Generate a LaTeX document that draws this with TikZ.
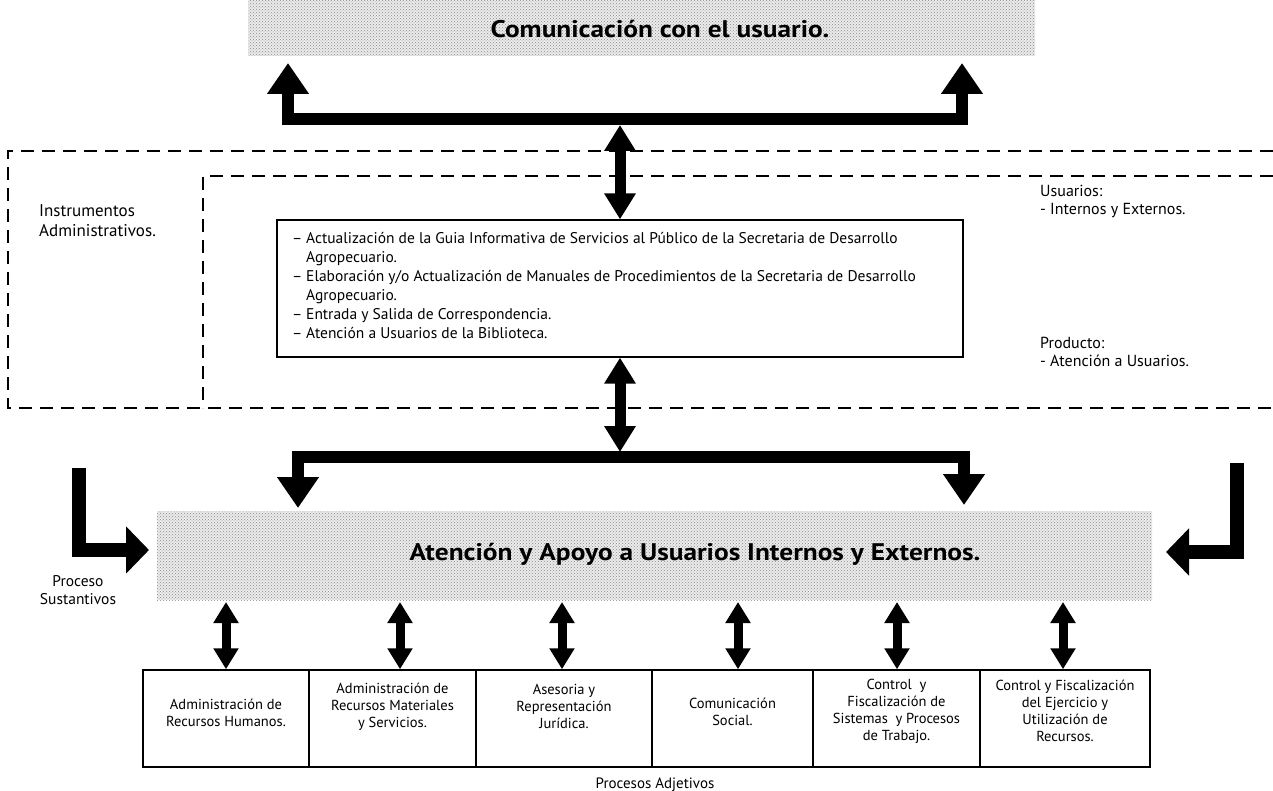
\documentclass[tikz,border=0pt]{standalone}
\usepackage{fontspec}
\usepackage{graphicx}
\setmainfont{PT Sans}
\usetikzlibrary{arrows.meta,patterns}

\begin{document}
\begin{tikzpicture}[x=1pt,y=-1pt,
  banner/.style={draw=none, fill=black!8, postaction={pattern=crosshatch dots, pattern color=black!45}},
  bantitle/.style={font=\bfseries\fontsize{24}{28}\selectfont, inner sep=0pt},
  fat/.style={line width=12pt, line join=miter, line cap=butt},
  bigtips/.style={{Triangle[width=40pt,length=31pt]}-{Triangle[width=40pt,length=31pt]}},
  ltip/.style={-{Triangle[width=46pt,length=23pt]}},
  midarrow/.style={line width=11pt, {Triangle[width=30pt,length=26pt]}-{Triangle[width=30pt,length=26pt]}},
  smallarrow/.style={line width=9pt, {Triangle[width=24pt,length=21pt]}-{Triangle[width=24pt,length=21pt]}},
  dashline/.style={line width=2.4pt, dash pattern=on 13pt off 8pt},
  taskbox/.style={draw, line width=1.3pt, minimum width=686pt, minimum height=137pt, inner sep=0pt},
  pbox/.style={draw, line width=1.5pt, minimum height=97pt, inner sep=0pt},
  ptext/.style={align=center, font=\fontsize{14.5}{17}\selectfont, inner sep=0pt},
  note/.style={align=left, anchor=north west, font=\fontsize{15.5}{19}\selectfont, inner sep=0pt}
]
\useasboundingbox (0,0) rectangle (1273,791);

% upper banner and its bracket
\node[banner, minimum width=787pt, minimum height=56pt] (topban) at (641.5,28) {};
\node[bantitle] (toptitle) at (660,29) {\scalebox{1.14}[1]{Comunicación con el usuario.}};

\coordinate (tl) at (288,63);
\coordinate (tlc) at (288,119);
\coordinate (trc) at (962,119);
\coordinate (tr) at (962,63);
\draw[fat, bigtips] (tl) -- (tlc) -- (trc) -- (tr);

% dashed frames
\draw[dashline] (1273,151) -- (8,151) -- (8,408) -- (1273,408);
\draw[dashline] (1273,176) -- (203,176) -- (203,408);

\node[note, font=\fontsize{17}{20}\selectfont] (instr) at (39,204) {Instrumentos\\Administrativos.};

% central task box
\node[taskbox] (tasks) at (620,288.5) {};
\node[note] (tasklist) at (292,232) {%
\makebox[14pt][l]{–}Actualización de la Guia Informativa de Servicios al Público de la Secretaria de Desarrollo\\
\hspace*{14pt}Agropecuario.\\
\makebox[14pt][l]{–}Elaboración y/o Actualización de Manuales de Procedimientos de la Secretaria de Desarrollo\\
\hspace*{14pt}Agropecuario.\\
\makebox[14pt][l]{–}Entrada y Salida de Correspondencia.\\
\makebox[14pt][l]{–}Atención a Usuarios de la Biblioteca.};

\node[note, font=\fontsize{16}{18}\selectfont] (usuarios) at (1040,185) {Usuarios:\\- Internos y Externos.};
\node[note, font=\fontsize{16}{18}\selectfont] (producto) at (1040,337) {Producto:\\- Atención a Usuarios.};

\coordinate (c1) at (620,125);
\draw[midarrow] (c1) -- (tasks.north);
\coordinate (c2) at (620,452);
\draw[midarrow] (tasks.south) -- (c2);

% lower bracket
\coordinate (bl) at (298,508);
\coordinate (blc) at (298,457);
\coordinate (brc) at (964,457);
\coordinate (br) at (964,505);
\draw[fat, bigtips] (bl) -- (blc) -- (brc) -- (br);

% lower banner
\node[banner, minimum width=995pt, minimum height=89pt] (lowban) at (654.5,555.5) {};
\node[bantitle] (lowtitle) at (695,554) {\scalebox{1.14}[1]{Atención y Apoyo a Usuarios Internos y Externos.}};

% side L-shaped arrows
\coordinate (ls) at (79,468);
\coordinate (lc) at (79,550);
\coordinate (lt) at (149,550);
\draw[fat, line width=14pt, ltip] (ls) -- (lc) -- (lt);
\coordinate (rs) at (1237,463);
\coordinate (rc) at (1237,552);
\coordinate (rt) at (1166,552);
\draw[fat, line width=14pt, ltip] (rs) -- (rc) -- (rt);

\node[ptext, font=\fontsize{15.5}{18}\selectfont] (sust) at (78,590) {Proceso\\Sustantivos};

% supporting processes
\node[pbox, minimum width=166pt] (b1) at (226,718.5) {};
\node[pbox, minimum width=167pt] (b2) at (392.5,718.5) {};
\node[pbox, minimum width=176pt] (b3) at (564,718.5) {};
\node[pbox, minimum width=161pt] (b4) at (732.5,718.5) {};
\node[pbox, minimum width=167pt] (b5) at (896.5,718.5) {};
\node[pbox, minimum width=170pt] (b6) at (1065,718.5) {};

\node[ptext] (t1) at ([yshift=6pt]b1.center) {Administración de\\Recursos Humanos.};
\node[ptext] (t2) at ([yshift=12pt]b2.center) {Administración de\\Recursos Materiales\\y Servicios.};
\node[ptext] (t3) at ([yshift=12pt]b3.center) {Asesoria y\\Representación\\Jurídica.};
\node[ptext] (t4) at ([yshift=7pt]b4.center) {Comunicación\\Social.};
\node[ptext] (t5) at ([yshift=7pt]b5.center) {Control\ \ y\\Fiscalización de\\Sistemas\ \ y Procesos\\de Trabajo.};
\node[ptext] (t6) at ([yshift=8pt]b6.center) {Control y Fiscalización\\del Ejercicio y\\Utilización de\\Recursos.};

\node[ptext, font=\fontsize{15}{18}\selectfont] (adj) at (655,785) {Procesos Adjetivos};

\foreach \i/\x in {1/226,2/400,3/562,4/738,5/897,6/1063}{
  \coordinate (s\i) at (\x,602);
  \draw[smallarrow] (s\i) -- (s\i |- b\i.north) ;
}
\end{tikzpicture}
\end{document}
